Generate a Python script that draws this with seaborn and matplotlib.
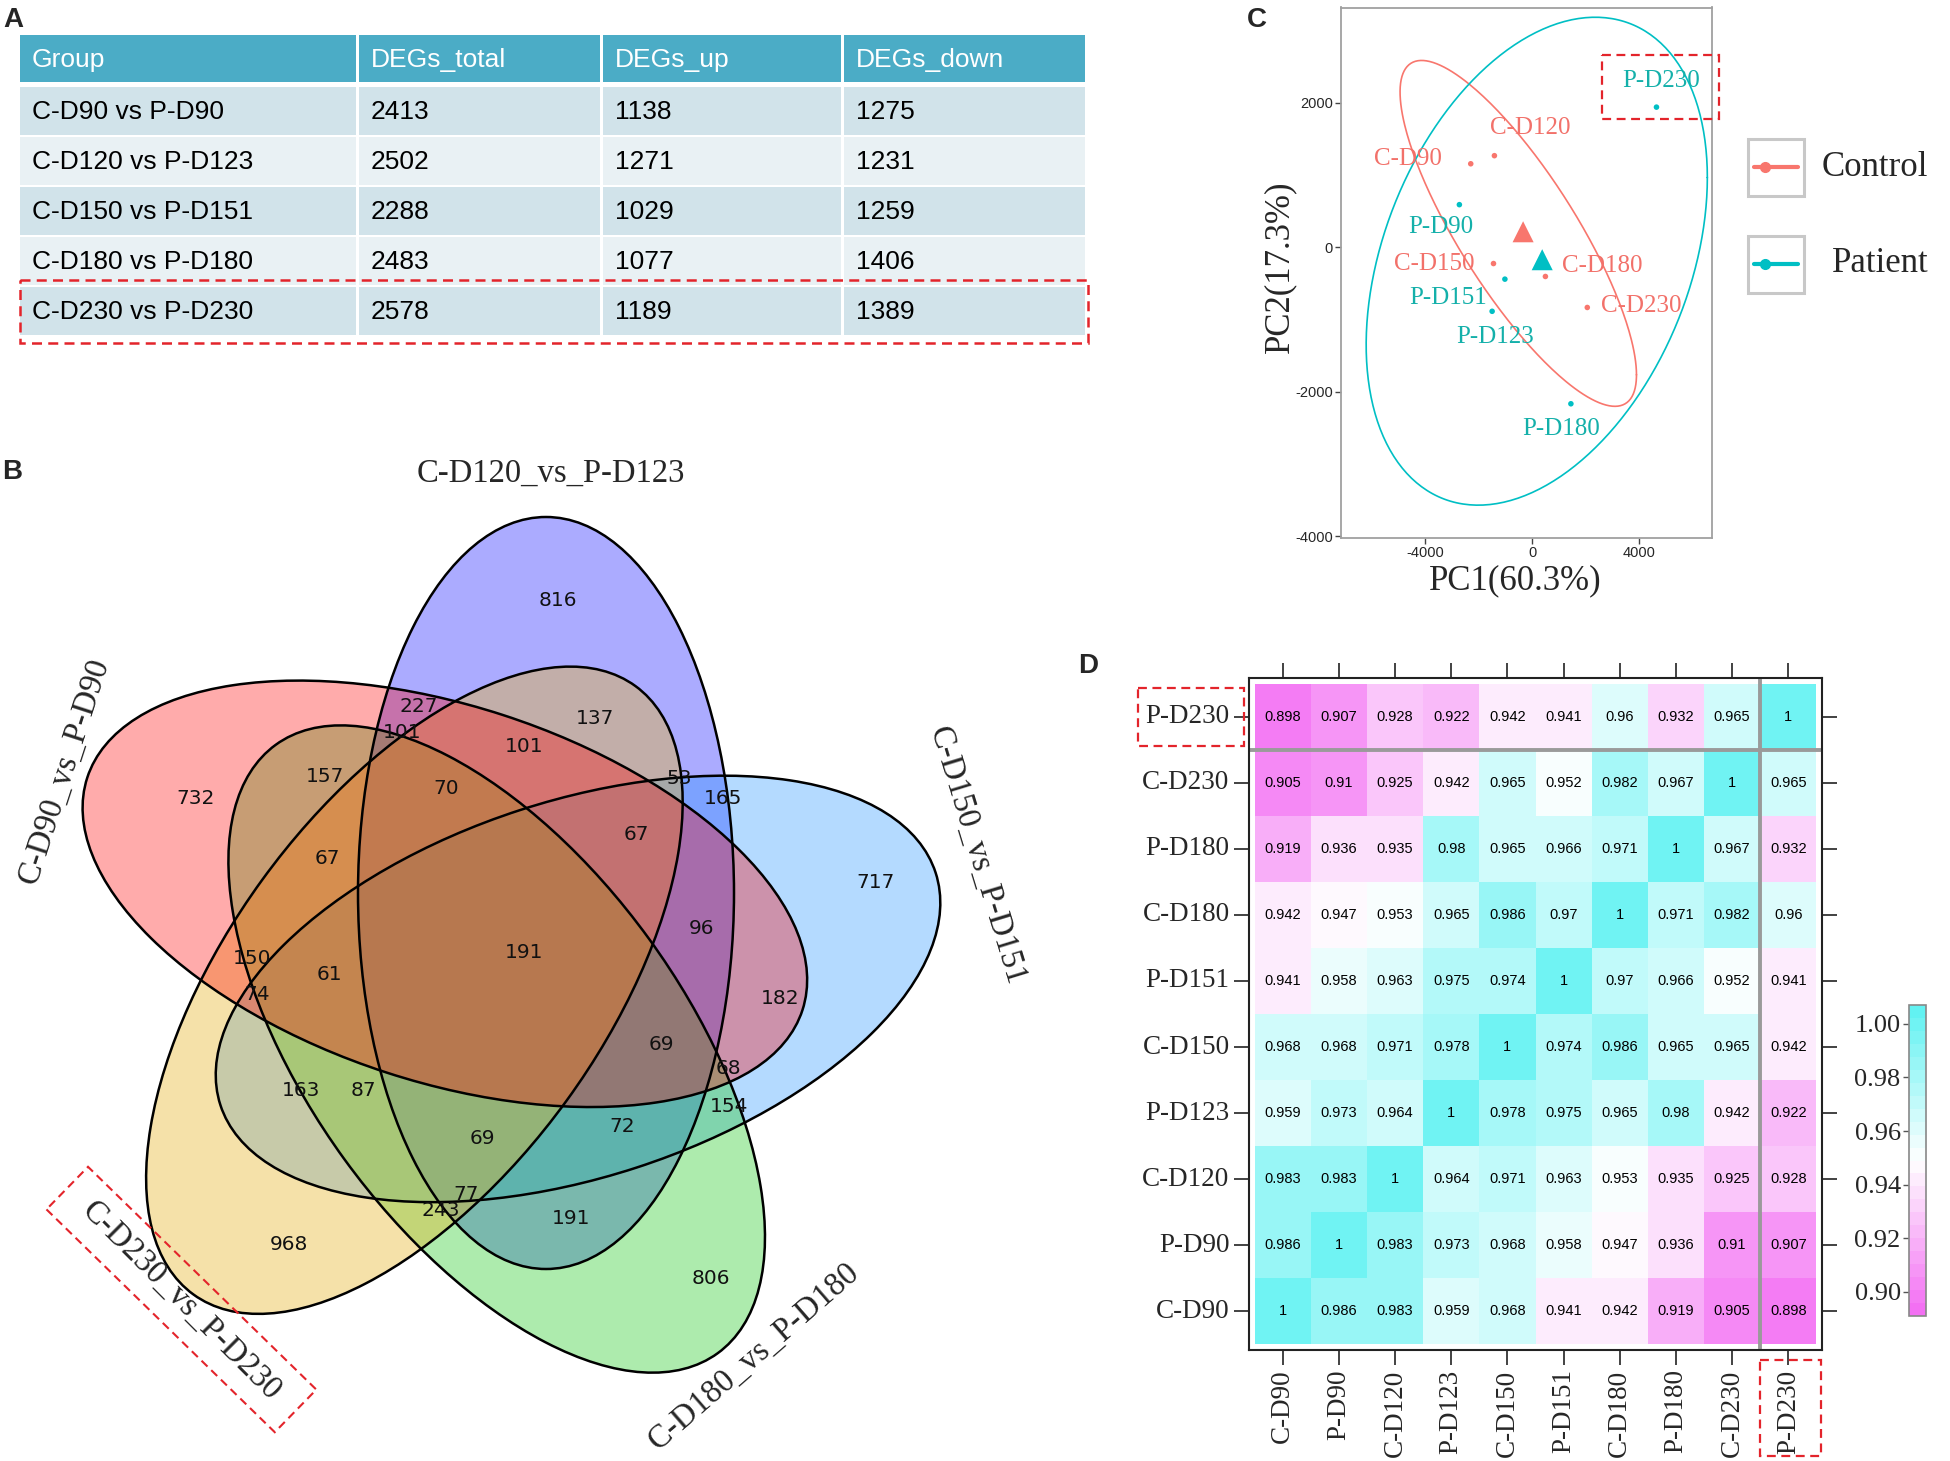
import numpy as np
import pandas as pd
import matplotlib
matplotlib.use("Agg")
import matplotlib.pyplot as plt
import seaborn as sns
from matplotlib.patches import Ellipse, Rectangle
from matplotlib.colors import LinearSegmentedColormap, ListedColormap

# ---------------- data ----------------
table_cols = ["Group", "DEGs_total", "DEGs_up", "DEGs_down"]
table_groups = ["C-D90 vs P-D90", "C-D120 vs P-D123", "C-D150 vs P-D151",
                "C-D180 vs P-D180", "C-D230 vs P-D230"]
degs_total = [2413, 2502, 2288, 2483, 2578]
degs_up = [1138, 1271, 1029, 1077, 1189]
degs_down = [1275, 1231, 1259, 1406, 1389]

venn_sets = ["C-D90_vs_P-D90", "C-D120_vs_P-D123", "C-D150_vs_P-D151",
             "C-D180_vs_P-D180", "C-D230_vs_P-D230"]
venn_counts = [816, 137, 227, 101, 101, 157, 70, 53, 165, 732, 67, 67, 717, 96,
               191, 150, 61, 74, 182, 69, 68, 163, 87, 154, 72, 69, 77, 243, 191,
               968, 806]

pca_samples = ["C-D90", "C-D120", "C-D150", "C-D180", "C-D230",
               "P-D90", "P-D151", "P-D123", "P-D180", "P-D230"]
pca_group = ["Control"] * 5 + ["Patient"] * 5
pca_pc1 = [-2298, -1413, -1447, 494, 2060, -2723, -1021, -1498, 1447, 4647]
pca_pc2 = [1153, 1265, -228, -407, -836, 587, -444, -889, -2169, 1937]
centroid_group = ["Control", "Patient"]
centroid_pc1 = [-340, 374]
centroid_pc2 = [212, -175]

hm_rows = ["P-D230", "C-D230", "P-D180", "C-D180", "P-D151", "C-D150",
           "P-D123", "C-D120", "P-D90", "C-D90"]
hm_cols = ["C-D90", "P-D90", "C-D120", "P-D123", "C-D150", "P-D151",
           "C-D180", "P-D180", "C-D230", "P-D230"]
hm_values = [
    [0.898, 0.907, 0.928, 0.922, 0.942, 0.941, 0.96, 0.932, 0.965, 1],
    [0.905, 0.91, 0.925, 0.942, 0.965, 0.952, 0.982, 0.967, 1, 0.965],
    [0.919, 0.936, 0.935, 0.98, 0.965, 0.966, 0.971, 1, 0.967, 0.932],
    [0.942, 0.947, 0.953, 0.965, 0.986, 0.97, 1, 0.971, 0.982, 0.96],
    [0.941, 0.958, 0.963, 0.975, 0.974, 1, 0.97, 0.966, 0.952, 0.941],
    [0.968, 0.968, 0.971, 0.978, 1, 0.974, 0.986, 0.965, 0.965, 0.942],
    [0.959, 0.973, 0.964, 1, 0.978, 0.975, 0.965, 0.98, 0.942, 0.922],
    [0.983, 0.983, 1, 0.964, 0.971, 0.963, 0.953, 0.935, 0.925, 0.928],
    [0.986, 1, 0.983, 0.973, 0.968, 0.958, 0.947, 0.936, 0.91, 0.907],
    [1, 0.986, 0.983, 0.959, 0.968, 0.941, 0.942, 0.919, 0.905, 0.898],
]
cbar_ticks = [0.90, 0.92, 0.94, 0.96, 0.98, 1.00]

# ---------------- figure ----------------
sns.set_theme(style="white")
plt.rcParams["font.family"] = ["Liberation Sans", "DejaVu Sans"]
plt.rcParams["axes.unicode_minus"] = False
SERIF = ["Liberation Serif", "DejaVu Serif"]
W, H = 1950, 1461
fig = plt.figure(figsize=(W / 100, H / 100), dpi=100)
RED_BOX = "#E3242B"

# overlay axes in pixel coordinates (y down)
ov = fig.add_axes([0, 0, 1, 1], zorder=20)
ov.set_xlim(0, W)
ov.set_ylim(H, 0)
ov.axis("off")
ov.patch.set_alpha(0)

def box(x0, y0, x1, y1, lw=1.6):
    ov.add_patch(Rectangle((x0, y0), x1 - x0, y1 - y0, fill=False,
                           ec=RED_BOX, lw=lw, ls=(0, (4, 2.5)), clip_on=False))

# ---------------- A: table ----------------
col_x = [20, 359, 603, 844, 1088]
hdr_top, hdr_h = 35, 47
row_top0, row_h, row_gap = 87, 48, 2
for j, name in enumerate(table_cols):
    x0, x1 = col_x[j], col_x[j + 1]
    ov.add_patch(Rectangle((x0, hdr_top), x1 - x0 - 3, hdr_h, fc="#4BACC6", ec="none"))
    ov.text(x0 + 12, hdr_top + hdr_h / 2 + 1, name, color="white", fontsize=19,
            va="center", ha="left")
rows = list(zip(table_groups, degs_total, degs_up, degs_down))
for i, r in enumerate(rows):
    y0 = row_top0 + i * (row_h + row_gap)
    fc = "#D1E3EA" if i % 2 == 0 else "#E9F1F4"
    for j in range(4):
        x0, x1 = col_x[j], col_x[j + 1]
        ov.add_patch(Rectangle((x0, y0), x1 - x0 - 3, row_h, fc=fc, ec="none"))
        ov.text(x0 + 12, y0 + row_h / 2 + 1, str(r[j]), color="black", fontsize=19,
                va="center", ha="left")
box(20, 280, 1088, 343, lw=1.8)

# ---------------- B: venn ----------------
axv = fig.add_axes([0, 0, 1100 / W, 1021 / H])
axv.set_xlim(-496, 604)
axv.set_ylim(-498, 523)
axv.axis("off")
a_len, b_len = 376, 188
base = np.array([50.0, 70.0])
geom_k = {"C-D120_vs_P-D123": 0, "C-D150_vs_P-D151": 1, "C-D180_vs_P-D180": 2,
          "C-D230_vs_P-D230": 3, "C-D90_vs_P-D90": 4}
fills = {"C-D90_vs_P-D90": ("#FF0000", 0.33), "C-D120_vs_P-D123": ("#0000FF", 0.33),
         "C-D150_vs_P-D151": ("#1E90FF", 0.33), "C-D180_vs_P-D180": ("#32CD32", 0.40),
         "C-D230_vs_P-D230": ("#E6B428", 0.40)}
draw_order = ["C-D120_vs_P-D123", "C-D150_vs_P-D151", "C-D180_vs_P-D180",
              "C-D230_vs_P-D230", "C-D90_vs_P-D90"]
geoms = {}
for name in venn_sets:
    k = geom_k[name]
    th = np.deg2rad(-72 * k)
    R = np.array([[np.cos(th), -np.sin(th)], [np.sin(th), np.cos(th)]])
    geoms[name] = (R @ base, 90 - 72 * k)
for name in draw_order:
    c, ang = geoms[name]
    col, al = fills[name]
    axv.add_patch(Ellipse(c, 2 * a_len, 2 * b_len, angle=ang, fc=col, alpha=al, ec="none"))
for name in draw_order:
    c, ang = geoms[name]
    axv.add_patch(Ellipse(c, 2 * a_len, 2 * b_len, angle=ang, fc="none", ec="black", lw=1.8))

count_xy = [(62, 362), (99, 245), (-77, 257), (-94, 231), (28, 216), (-171, 187),
            (-50, 174), (183, 185), (227, 164), (-300, 164), (140, 129), (-169, 105),
            (380, 81), (206, 35), (28, 11), (-244, 5), (-167, -11), (-239, -31),
            (284, -35), (165, -82), (232, -105), (-195, -128), (-133, -128),
            (233, -143), (126, -164), (-14, -175), (-30, -231), (-55, -248),
            (75, -256), (-207, -281), (215, -316)]
for (x, y), n in zip(count_xy, venn_counts):
    axv.text(x, y, str(n), ha="center", va="center", fontsize=14.5,
             family=["DejaVu Sans"], color="#111111")

set_label_pos = {"C-D120_vs_P-D123": ((55, 489), 0), "C-D90_vs_P-D90": ((-432, 192), 72),
                 "C-D150_vs_P-D151": ((481, 107), -73), "C-D180_vs_P-D180": ((258, -393), 41),
                 "C-D230_vs_P-D230": ((-315, -338), -45)}
for name in venn_sets:
    (x, y), rot = set_label_pos[name]
    axv.text(x, y, name, ha="center", va="center", rotation=rot, fontsize=23.5,
             family=SERIF, rotation_mode="anchor")
axv.add_patch(Rectangle((-314.6 - 159.5, -336.5 - 29.75), 319, 59.5, angle=-44.3,
                        rotation_point="center", fill=False, ec=RED_BOX, lw=1.5,
                        ls=(0, (4, 2.5)), clip_on=False))

# ---------------- C: PCA ----------------
pal = {"Control": "#F8766D", "Patient": "#00BFC4"}
txtcol = {"Control": "#F2716A", "Patient": "#14B0AA"}
axp = fig.add_axes([1341 / W, 1 - 537.5 / H, 371 / W, 530 / H])
pca_df = pd.DataFrame({"sample": pca_samples, "Group": pca_group,
                       "PC1": pca_pc1, "PC2": pca_pc2})
cen_df = pd.DataFrame({"Group": centroid_group, "PC1": centroid_pc1, "PC2": centroid_pc2})
radius = {"Control": 2.5, "Patient": 2.18}
t = np.linspace(0, 2 * np.pi, 300)
for g, sub in pca_df.groupby("Group"):
    xy = sub[["PC1", "PC2"]].to_numpy(float)
    mu = xy.mean(axis=0)
    cov = np.cov(xy.T)
    L = np.linalg.cholesky(cov)
    pts = mu[:, None] + radius[g] * (L @ np.vstack([np.cos(t), np.sin(t)]))
    axp.plot(pts[0], pts[1], color=pal[g], lw=1.2)
sns.scatterplot(data=pca_df, x="PC1", y="PC2", hue="Group", palette=pal, s=16,
                edgecolor="none", legend=False, ax=axp, zorder=3)
sns.scatterplot(data=cen_df, x="PC1", y="PC2", hue="Group", palette=pal, s=230,
                marker="^", edgecolor="none", legend=False, ax=axp, zorder=3)
label_off = {"C-D90": (-63, 5), "C-D120": (36, 28), "P-D90": (-19, -22),
             "C-D150": (-59, 0), "C-D180": (57, 10), "P-D151": (-57, -19),
             "C-D230": (54, 1), "P-D123": (3, -26), "P-D180": (-10, -25),
             "P-D230": (5, 26)}
for _, r in pca_df.iterrows():
    dx, dy = label_off[r["sample"]]
    axp.annotate(r["sample"], (r["PC1"], r["PC2"]), xytext=(dx, dy),
                 textcoords="offset pixels", ha="center", va="center",
                 fontsize=18, family=SERIF, color=txtcol[r["Group"]])
axp.set_xlim(-7149, 6723)
axp.set_ylim(-4020, 3316)
axp.set_xticks([-4000, 0, 4000])
axp.set_yticks([-4000, -2000, 0, 2000])
axp.tick_params(length=4, width=1, color="#444444", labelsize=10.5, pad=2,
                bottom=True, left=True)
for s in axp.spines.values():
    s.set_color("#A0A0A0")
    s.set_linewidth(1.3)
axp.set_xlabel("PC1(60.3%)", fontsize=25, family=SERIF)
axp.set_ylabel("PC2(17.3%)", fontsize=25, family=SERIF)
axp.xaxis.set_label_coords(0.47, -0.05)
axp.yaxis.set_label_coords(-0.12, 0.51)
# legend
for (yt, g, tx) in [(139, "Control", 1822), (236, "Patient", 1832)]:
    ov.add_patch(Rectangle((1748, yt), 56, 57, fc="white", ec="#C8C8C8", lw=2.2))
    ov.plot([1754, 1798], [yt + 28, yt + 28], color=pal[g], lw=3)
    ov.plot([1765], [yt + 28], marker="o", ms=7, color=pal[g])
    ov.text(tx, yt + 28, g, fontsize=25, family=SERIF, va="center", ha="left")
box(1602, 55, 1719, 119)

# ---------------- D: heatmap ----------------
low, mid, high = (243 / 255, 112 / 255, 243 / 255), (1, 1, 1), (98 / 255, 242 / 255, 242 / 255)
base_cmap = LinearSegmentedColormap.from_list("vwc", [low, mid, high])
cmap = ListedColormap(base_cmap(np.linspace(0, 1, 24)))
hm = pd.DataFrame(hm_values, index=hm_rows, columns=hm_cols)
axh = fig.add_axes([1249 / W, 1 - 1350 / H, (1822 - 1249) / W, (1350 - 678) / H])
cax = fig.add_axes([1909 / W, 1 - 1316 / H, 17 / W, 311 / H])
sns.heatmap(hm, ax=axh, cmap=cmap, vmin=0.891, vmax=1.007, annot=True, fmt="g",
            annot_kws=dict(size=10.5, color="black"), cbar_ax=cax, linewidths=0)
axh.set_xlim(-0.1, 10.1)
axh.set_ylim(10.09, -0.09)
for s in axh.spines.values():
    s.set_visible(True)
    s.set_color("#222222")
    s.set_linewidth(1.5)
axh.axvline(9, color="#9A9A9A", lw=2.8)
axh.axhline(1, color="#9A9A9A", lw=2.8)
axh.tick_params(top=True, right=True, bottom=True, left=True, direction="out",
                length=11, width=1.2, color="#222222", labeltop=False, labelright=False,
                pad=3)
axh.set_xticklabels(hm_cols, rotation=90, fontsize=19.5, family=SERIF)
axh.set_yticklabels(hm_rows, rotation=0, fontsize=19.5, family=SERIF)
axh.set_xlabel("")
axh.set_ylabel("")
cb = axh.collections[0].colorbar
cb.set_ticks(cbar_ticks)
cb.ax.yaxis.set_ticks_position("left")
cb.ax.yaxis.set_label_position("left")
cb.ax.set_yticklabels([f"{v:.2f}" for v in cbar_ticks], fontsize=19, family=SERIF)
cb.ax.tick_params(length=4, width=1, color="#555555", pad=2)
cb.outline.set_edgecolor("#888888")
cb.outline.set_linewidth(1.2)
box(1138, 688, 1244, 746)
box(1760, 1360, 1821, 1456)

# ---------------- panel letters ----------------
for letter, x, y in [("A", 3, 27), ("B", 2, 479), ("C", 1247, 27), ("D", 1078, 673)]:
    ov.text(x, y, letter, fontsize=20, fontweight="bold", va="baseline", ha="left")

fig.savefig("out.png", dpi=100)
